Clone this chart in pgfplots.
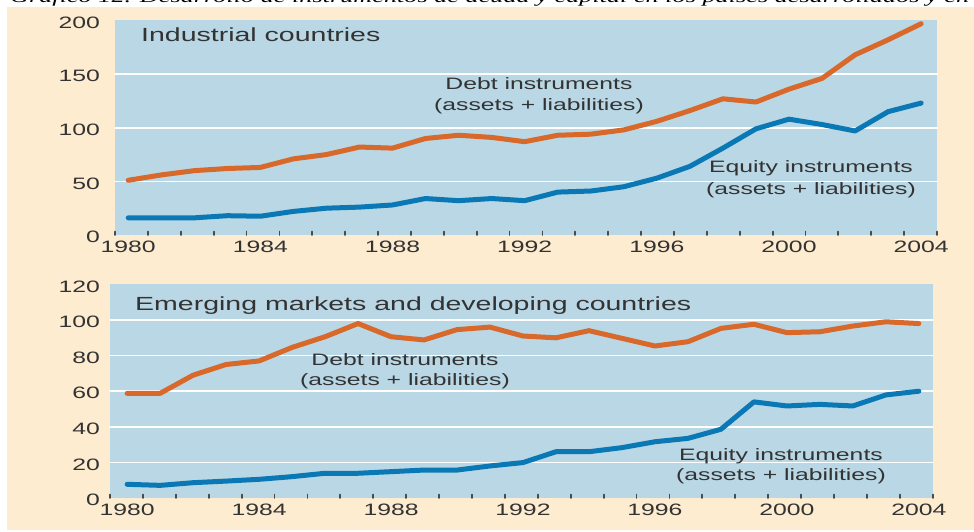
\documentclass[border=0pt]{standalone}
\usepackage{pgfplots}
\pgfplotsset{compat=1.18}
\usepackage{fontspec}
\setmainfont[FakeStretch=1.5]{Liberation Sans}
\newfontfamily\titlefont[FakeStretch=1.5]{Liberation Serif}
\definecolor{pagebg}{HTML}{FDECD0}
\definecolor{plotbg}{HTML}{B9D7E5}
\definecolor{debtc}{HTML}{D8692B}
\definecolor{eqc}{HTML}{0B78B6}
\definecolor{txt}{HTML}{333333}
\definecolor{tickc}{HTML}{4A4A4A}
\pgfplotsset{
  panel/.style={
    anchor=south west, scale only axis,
    axis line style={draw=none},
    axis background/.style={fill=plotbg},
    major tick length=0pt,
    minor tick length=3.5pt,
    tick align=inside,
    xtick pos=bottom, ytick pos=left,
    minor tick style={line width=1.8pt, draw=tickc},
    ymajorgrids,
    major grid style={white, line width=1.5pt},
    extra y tick style={grid=none},
    xtick={1980,1984,1988,1992,1996,2000,2004},
    xticklabels={1980,1984,1988,1992,1996,2000,2004},
    tick label style={font=\fontsize{16.5}{19}\selectfont, text=txt, inner sep=0pt},
    xticklabel style={anchor=north, yshift=-6pt},
    yticklabel style={anchor=east, yshift=-2pt},
    line cap=round, line join=round,
  },
  debt/.style={debtc, line width=5pt, mark=none},
  eq/.style={eqc, line width=5pt, mark=none},
}
\begin{document}
\begin{tikzpicture}
\fill[white] (0pt,0pt) rectangle (974pt,531pt);
\fill[pagebg] (7pt,1pt) rectangle (974pt,524pt);
\begin{scope}
\clip (0pt,524pt) rectangle (974pt,531pt);
\node[anchor=base west, inner sep=0pt, font=\titlefont\itshape\fontsize{17.5}{21}\selectfont] at (10pt,528.5pt) {Gráfico 12. Desarrollo de instrumentos de deuda y capital en los países desarrollados y en desarrollo};
\end{scope}

% ---------- top panel
\begin{axis}[panel,
  at={(115pt,296pt)}, width=822pt, height=214.5pt,
  xmin=1979.6, xmax=2004.48, ymin=0, ymax=200,
  ytick={50,100,150}, yticklabels={50,100,150},
  extra y ticks={0,200}, extra y tick labels={0,200},
  yticklabel style={xshift=-15pt},
  minor xtick={1979.6,1980.5952,...,2004.47},
]
\addplot[debt] coordinates {
(1980,51)(1981,56)(1982,60)(1983,62)(1984,63)(1985,71)(1986,75)(1987,82)(1988,81)(1989,90)
(1990,93)(1991,91)(1992,87)(1993,93)(1994,94)(1995,98)(1996,106)(1997,116)(1998,127)(1999,124)
(2000,136)(2001,146)(2002,168)(2003,182)(2004,197)};
\addplot[eq] coordinates {
(1980,16)(1981,16)(1982,16)(1983,18)(1984,17.5)(1985,22)(1986,25)(1987,26)(1988,28)(1989,34)
(1990,32)(1991,34)(1992,32)(1993,40)(1994,41)(1995,45)(1996,53)(1997,64)(1998,81)(1999,99)
(2000,108)(2001,103)(2002,97)(2003,115)(2004,123)};
\end{axis}

% ---------- bottom panel
\begin{axis}[panel,
  at={(110pt,33pt)}, width=822.7pt, height=213.6pt,
  xmin=1979.48, xmax=2004.42, ymin=0, ymax=120,
  ytick={20,40,60,80,100}, yticklabels={20,40,60,80,100},
  extra y ticks={0,120}, extra y tick labels={0,120},
  yticklabel style={xshift=-10pt},
  minor xtick={1979.48,1980.4776,...,2004.41},
]
\addplot[debt] coordinates {
(1980,58.8)(1981,58.8)(1982,69)(1983,75)(1984,77)(1985,84.6)(1986,90.6)(1987,98)(1988,90.6)(1989,88.8)
(1990,94.6)(1991,96)(1992,91)(1993,90)(1994,94)(1995,89.7)(1996,85.4)(1997,87.8)(1998,95.3)(1999,97.6)
(2000,92.9)(2001,93.4)(2002,96.6)(2003,99)(2004,98)};
\addplot[eq] coordinates {
(1980,7.7)(1981,7.1)(1982,8.6)(1983,9.5)(1984,10.5)(1985,12)(1986,13.9)(1987,13.9)(1988,14.8)(1989,15.7)
(1990,15.7)(1991,18)(1992,19.9)(1993,26)(1994,26)(1995,28.3)(1996,31.6)(1997,33.5)(1998,38.6)(1999,54)
(2000,51.7)(2001,52.6)(2002,51.7)(2003,57.9)(2004,60)};
\end{axis}

% ---------- annotations
\begin{scope}[every node/.style={inner sep=0pt, text=txt, font=\fontsize{16.5}{19}\selectfont}]
\node[anchor=west, font=\fontsize{19}{22}\selectfont] at (141pt,496pt) {Industrial countries};
\node[anchor=base] at (539pt,441pt) {Debt instruments};
\node[anchor=base] at (539pt,420.5pt) {(assets + liabilities)};
\node[anchor=base] at (811pt,358.7pt) {Equity instruments};
\node[anchor=base] at (811pt,337pt) {(assets + liabilities)};
\node[anchor=base west, font=\fontsize{19}{22}\selectfont] at (135pt,221pt) {Emerging markets and developing countries};
\node[anchor=base] at (405pt,165.3pt) {Debt instruments};
\node[anchor=base] at (405pt,146pt) {(assets + liabilities)};
\node[anchor=base] at (781pt,71pt) {Equity instruments};
\node[anchor=base] at (781pt,50.3pt) {(assets + liabilities)};
\end{scope}
\pgfresetboundingbox
\path[use as bounding box] (0pt,0pt) rectangle (974pt,531pt);
\end{tikzpicture}
\end{document}
